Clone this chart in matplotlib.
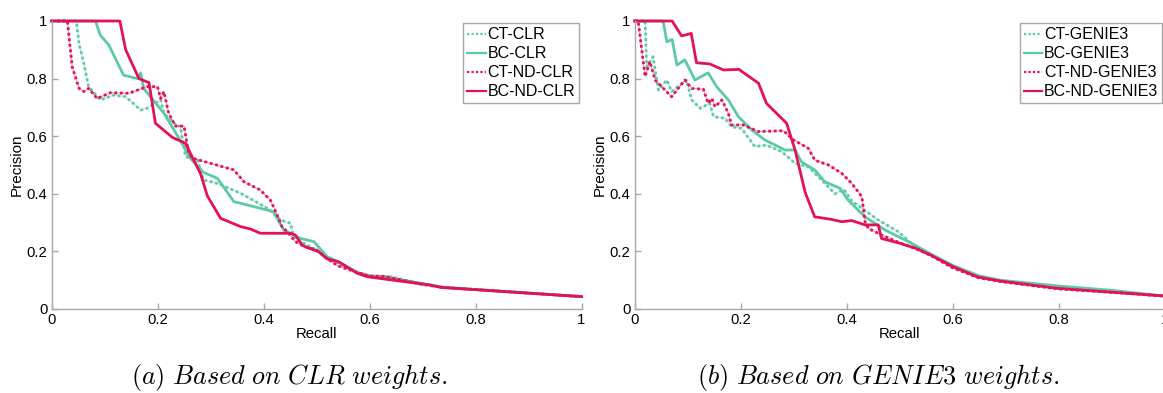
import matplotlib
matplotlib.use("Agg")
import matplotlib.pyplot as plt

plt.rcParams['font.family'] = ['Liberation Sans', 'DejaVu Sans']
plt.rcParams['mathtext.fontset'] = 'cm'

TEAL = '#5ccba5'
RED = '#e4105a'

# ---------------- data: (a) CLR ----------------
clr_ct_r = [0.0, 0.047, 0.052, 0.061, 0.070, 0.092, 0.118, 0.140, 0.168, 0.180, 0.206, 0.212, 0.231, 0.243,
            0.253, 0.275, 0.287, 0.313, 0.357, 0.407, 0.432, 0.451, 0.457, 0.482, 0.500, 0.520, 0.545,
            0.580, 0.600, 0.640, 0.700, 0.740, 1.0]
clr_ct_p = [1.0, 1.0, 0.920, 0.853, 0.772, 0.726, 0.743, 0.737, 0.691, 0.697, 0.726, 0.680, 0.645, 0.633,
            0.529, 0.517, 0.448, 0.436, 0.402, 0.350, 0.309, 0.298, 0.251, 0.222, 0.205, 0.180, 0.155,
            0.127, 0.116, 0.112, 0.088, 0.075, 0.043]

clr_bc_r = [0.0, 0.083, 0.092, 0.108, 0.136, 0.162, 0.168, 0.174, 0.184, 0.212, 0.231, 0.250, 0.259,
            0.287, 0.313, 0.344, 0.419, 0.438, 0.470, 0.495, 0.520, 0.545, 0.577, 0.600, 0.640, 0.720,
            0.740, 1.0]
clr_bc_p = [1.0, 1.0, 0.951, 0.917, 0.812, 0.800, 0.820, 0.766, 0.743, 0.680, 0.622, 0.564, 0.529,
            0.474, 0.454, 0.373, 0.338, 0.274, 0.245, 0.234, 0.182, 0.160, 0.126, 0.113, 0.105, 0.082,
            0.075, 0.043]

clr_ctnd_r = [0.0, 0.030, 0.039, 0.052, 0.061, 0.070, 0.086, 0.111, 0.146, 0.180, 0.200, 0.206, 0.212,
              0.221, 0.234, 0.250, 0.259, 0.267, 0.344, 0.363, 0.394, 0.413, 0.426, 0.435, 0.445, 0.460,
              0.479, 0.500, 0.520, 0.540, 0.580, 0.600, 0.630, 0.700, 0.740, 1.0]
clr_ctnd_p = [1.0, 1.0, 0.841, 0.766, 0.755, 0.766, 0.731, 0.751, 0.749, 0.772, 0.772, 0.731, 0.755,
              0.680, 0.635, 0.635, 0.540, 0.523, 0.483, 0.442, 0.413, 0.378, 0.326, 0.286, 0.268, 0.234,
              0.216, 0.205, 0.175, 0.150, 0.125, 0.115, 0.113, 0.085, 0.075, 0.043]

clr_bcnd_r = [0.0, 0.129, 0.140, 0.165, 0.184, 0.196, 0.228, 0.253, 0.265, 0.281, 0.294, 0.319, 0.357,
              0.375, 0.394, 0.451, 0.460, 0.473, 0.479, 0.504, 0.520, 0.542, 0.577, 0.596, 0.633, 0.715,
              0.734, 1.0]
clr_bcnd_p = [1.0, 1.0, 0.900, 0.800, 0.786, 0.645, 0.596, 0.575, 0.529, 0.471, 0.393, 0.315, 0.286,
              0.278, 0.263, 0.263, 0.257, 0.222, 0.216, 0.199, 0.174, 0.164, 0.124, 0.112, 0.103, 0.083,
              0.075, 0.043]

# ---------------- data: (b) GENIE3 ----------------
gen_ct_r = [0.0, 0.020, 0.023, 0.035, 0.045, 0.061, 0.070, 0.098, 0.108, 0.124, 0.142, 0.149, 0.171,
            0.183, 0.202, 0.227, 0.249, 0.278, 0.303, 0.328, 0.353, 0.378, 0.395, 0.410, 0.460, 0.498,
            0.529, 0.560, 0.600, 0.650, 0.700, 0.800, 0.900, 1.0]
gen_ct_p = [1.0, 1.0, 0.841, 0.876, 0.760, 0.795, 0.755, 0.795, 0.726, 0.697, 0.714, 0.668, 0.662,
            0.633, 0.627, 0.564, 0.569, 0.546, 0.506, 0.494, 0.448, 0.400, 0.415, 0.375, 0.309, 0.268,
            0.216, 0.185, 0.145, 0.110, 0.095, 0.070, 0.060, 0.045]

gen_bc_r = [0.0, 0.054, 0.061, 0.071, 0.080, 0.095, 0.114, 0.139, 0.155, 0.177, 0.196, 0.221, 0.246,
            0.284, 0.303, 0.315, 0.340, 0.359, 0.388, 0.403, 0.435, 0.473, 0.510, 0.529, 0.560, 0.600,
            0.650, 0.690, 0.800, 0.900, 1.0]
gen_bc_p = [1.0, 1.0, 0.928, 0.936, 0.847, 0.865, 0.795, 0.820, 0.772, 0.726, 0.668, 0.622, 0.587,
            0.552, 0.552, 0.511, 0.483, 0.442, 0.419, 0.378, 0.320, 0.274, 0.240, 0.222, 0.190, 0.152,
            0.115, 0.100, 0.080, 0.065, 0.045]

gen_ctnd_r = [0.0, 0.007, 0.020, 0.029, 0.039, 0.070, 0.095, 0.108, 0.130, 0.139, 0.146, 0.152, 0.165,
              0.177, 0.183, 0.205, 0.234, 0.281, 0.300, 0.328, 0.340, 0.366, 0.391, 0.410, 0.429, 0.435,
              0.441, 0.466, 0.500, 0.530, 0.560, 0.600, 0.650, 0.700, 0.800, 0.900, 1.0]
gen_ctnd_p = [1.0, 1.0, 0.807, 0.859, 0.795, 0.737, 0.795, 0.766, 0.763, 0.714, 0.731, 0.702, 0.726,
              0.680, 0.639, 0.639, 0.616, 0.619, 0.587, 0.558, 0.517, 0.500, 0.471, 0.436, 0.390, 0.303,
              0.280, 0.257, 0.230, 0.210, 0.185, 0.143, 0.108, 0.093, 0.070, 0.058, 0.045]

gen_bcnd_r = [0.0, 0.071, 0.089, 0.107, 0.117, 0.142, 0.168, 0.197, 0.234, 0.249, 0.287, 0.303, 0.322,
              0.340, 0.372, 0.391, 0.410, 0.435, 0.460, 0.466, 0.501, 0.532, 0.558, 0.601, 0.646, 0.690,
              0.797, 1.0]
gen_bcnd_p = [1.0, 1.0, 0.948, 0.957, 0.855, 0.851, 0.830, 0.832, 0.784, 0.714, 0.645, 0.552, 0.405,
              0.320, 0.311, 0.303, 0.307, 0.292, 0.292, 0.245, 0.228, 0.210, 0.188, 0.147, 0.112, 0.097,
              0.072, 0.045]

labels_clr = ['CT-CLR', 'BC-CLR', 'CT-ND-CLR', 'BC-ND-CLR']
labels_gen = ['CT-GENIE3', 'BC-GENIE3', 'CT-ND-GENIE3', 'BC-ND-GENIE3']
captions = ['(a) Based on CLR weights.', '(b) Based on GENIE3 weights.']
ticks = [0, 0.2, 0.4, 0.6, 0.8, 1]
tick_labels = ['0', '0.2', '0.4', '0.6', '0.8', '1']

W, H = 1163, 393
fig = plt.figure(figsize=(W / 100, H / 100), dpi=100)

axes_px = [(51.5, 21, 530, 288), (634.5, 21, 530, 288)]
series = [
    [(clr_ct_r, clr_ct_p), (clr_bc_r, clr_bc_p), (clr_ctnd_r, clr_ctnd_p), (clr_bcnd_r, clr_bcnd_p)],
    [(gen_ct_r, gen_ct_p), (gen_bc_r, gen_bc_p), (gen_ctnd_r, gen_ctnd_p), (gen_bcnd_r, gen_bcnd_p)],
]
all_labels = [labels_clr, labels_gen]
styles = [(TEAL, ':'), (TEAL, '-'), (RED, ':'), (RED, '-')]
GREY = '#a8a8a8'

for k, (x0, y0, w, h) in enumerate(axes_px):
    ax = fig.add_axes([x0 / W, 1 - (y0 + h) / H, w / W, h / H])
    handles = []
    for (r, p), (c, ls), lab in zip(series[k], styles, all_labels[k]):
        if ls == ':':
            ax.plot(r, p, color=c, lw=0.8, alpha=0.45, clip_on=False)
            hl, = ax.plot(r, p, color=c, lw=2.0, ls=(0, (1, 1)), clip_on=False, label=lab)
        else:
            hl, = ax.plot(r, p, color=c, lw=2.0, clip_on=False, label=lab)
        handles.append(hl)
    ax.set_xlim(0, 1)
    ax.set_ylim(0, 1)
    ax.set_xticks(ticks)
    ax.set_xticklabels(tick_labels)
    ax.set_yticks(ticks)
    ax.set_yticklabels(tick_labels)
    for s in ['top', 'right']:
        ax.spines[s].set_visible(False)
    for s in ['left', 'bottom']:
        ax.spines[s].set_color(GREY)
        ax.spines[s].set_linewidth(1.0)
    ax.tick_params(direction='in', length=4, width=1, colors=GREY, labelcolor='black',
                   labelsize=10.7, pad=3)
    ax.set_xlabel('Recall', fontsize=10.7, labelpad=0)
    ax.set_ylabel('Precision', fontsize=11, labelpad=2)
    leg = ax.legend(handles=handles, loc='upper right', bbox_to_anchor=(1, 1), fontsize=11.5,
                    frameon=True, fancybox=False, framealpha=1, edgecolor=GREY,
                    borderpad=0.25, borderaxespad=0.15, handlelength=1.15, handletextpad=0.12,
                    labelspacing=0.25)
    leg.get_frame().set_linewidth(1.0)
    for lh in leg.get_lines():
        lh.set_linewidth(1.6)

def mt(s):
    return r'$\mathit{' + s.replace(' ', r'\ ') + '}$'

fig.text(289 / W, 1 - 384 / H, mt(captions[0]), ha='center', va='baseline', fontsize=18.8)
fig.text(878 / W, 1 - 384 / H, mt(captions[1]), ha='center', va='baseline', fontsize=18.8)

fig.savefig('out.png', dpi=100)
